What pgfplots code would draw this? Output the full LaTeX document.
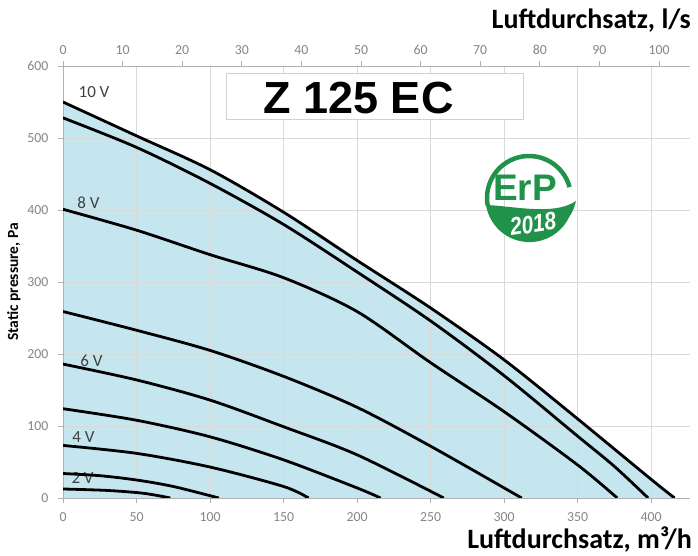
\documentclass[border=0pt]{standalone}
\usepackage{pgfplots}
\pgfplotsset{compat=1.18}
\usepackage{fontspec}
\setmainfont{Carlito}
\newfontfamily\arialfont{Liberation Sans}

\definecolor{fillblue}{HTML}{C5E5EF}
\definecolor{gridgray}{HTML}{D9D9D9}
\definecolor{axgray}{HTML}{B0B0B0}
\definecolor{ticktext}{HTML}{858585}
\definecolor{labeltext}{HTML}{404040}
\definecolor{erpgreen}{HTML}{21924A}
\definecolor{boxgray}{HTML}{D0D0D0}

\pgfplotsset{
  fanaxis/.style={
    at={(63pt,58pt)}, anchor=south west, scale only axis,
    width=627pt, height=432pt,
    ymin=0, ymax=600,
    tick align=outside, major tick length=5pt,
    tick style={axgray, line width=0.8pt},
    axis line style={axgray, line width=0.8pt},
    tick label style={font=\fontsize{13.8}{15}\selectfont, text=ticktext},
    /pgf/number format/assume math mode=true,
  },
  curve/.style={black, line width=2.8pt, smooth, tension=0.5},
}

\begin{document}
\begin{tikzpicture}[x=1pt,y=1pt]
\path (0,0) rectangle (698,556);

\begin{axis}[fanaxis,
  set layers,
  xmin=0, xmax=426.5,
  axis x line*=bottom, axis y line*=left,
  xtick={0,50,...,400}, ytick={0,100,...,600},
  xticklabel style={yshift=-6pt},
  yticklabel style={xshift=-6pt},
  grid=major, major grid style={gridgray, line width=0.9pt},
]
% area under the 10 V curve
\addplot[fill=fillblue, draw=none, smooth, tension=0.5, on layer=axis background]
  coordinates {(0,550) (50,503) (100,456) (150,397) (200,330) (250,264)
    (300,192) (350,110) (400,26) (416,0)} \closedcycle;

% voltage labels
\node[font=\fontsize{17}{18}\selectfont, text=labeltext] at (axis cs:21.1,564) {10 V};
\node[font=\fontsize{17}{18}\selectfont, text=labeltext] at (axis cs:17.3,410) {8 V};
\node[font=\fontsize{17}{18}\selectfont, text=labeltext] at (axis cs:19.4,190) {6 V};
\node[font=\fontsize{17}{18}\selectfont, text=labeltext] at (axis cs:13.9,85) {4 V};
\node[font=\fontsize{17}{18}\selectfont, text=labeltext] at (axis cs:13.3,28) {2 V};

% characteristic curves
\addplot[curve] coordinates {(0,550) (50,503) (100,456) (150,397) (200,330)
  (250,264) (300,192) (350,110) (400,26) (416,0)};
\addplot[curve] coordinates {(0,528) (50,487) (100,437) (150,380) (200,314)
  (250,246) (300,170) (350,86) (375,44) (398,0)};
\addplot[curve] coordinates {(0,401) (50,372) (100,338) (150,306) (200,259)
  (250,188) (300,120) (350,46) (377,0)};
\addplot[curve] coordinates {(0,259) (50,233) (100,205) (150,169) (200,126)
  (250,72) (312,0)};
\addplot[curve] coordinates {(0,186) (50,164) (100,136) (150,99) (200,60) (259,0)};
\addplot[curve] coordinates {(0,124) (50,108) (100,85) (150,53) (200,14) (216,0)};
\addplot[curve] coordinates {(0,73) (50,62) (100,43) (150,16) (167,0)};
\addplot[curve] coordinates {(0,34) (25,31) (50,25) (75,16) (106,0)};
\addplot[curve] coordinates {(0,12.5) (30,10.5) (55,6.5) (73,0)};
\end{axis}

% top axis in l/s
\begin{axis}[fanaxis,
  xmin=0, xmax=105.2,
  axis x line*=top, axis y line*=left,
  y axis line style={draw=none}, ytick=\empty,
  xtick={0,10,...,100},
  xticklabel style={yshift=3pt},
]
\addplot[draw=none] coordinates {(0,0) (100,600)};
\end{axis}

% axis titles
\node[anchor=base east, font=\fontsize{28}{30}\selectfont\bfseries, inner sep=0pt]
  at (692,7) {Luftdurchsatz, m³/h};
\node[anchor=base east, font=\fontsize{28}{30}\selectfont\bfseries, inner sep=0pt]
  at (691,527) {Luftdurchsatz, l/s};
\node[rotate=90, font=\fontsize{15.5}{17}\selectfont\bfseries, inner sep=0pt]
  at (14,274) {Static pressure, Pa};

% model box
\draw[boxgray, line width=0.8pt, fill=white] (226,437) rectangle (523,483);
\node[font=\arialfont\bfseries\fontsize{45}{46}\selectfont, inner sep=0pt]
  at (358.5,458) {Z 125 EC};

% ErP 2018 badge
\begin{scope}[shift={(529,358)}]
  \draw[erpgreen, line width=4.5pt] (15:42) arc[start angle=15, end angle=190, radius=42];
  \fill[erpgreen] (-43,-7) arc[start angle=189, end angle=335, radius=44]
    .. controls (44,-14) and (46,-7) .. (47,-3)
    .. controls (25,-18) and (-15,-8) .. (-43,-7) -- cycle;
  \node[erpgreen, font=\arialfont\bfseries\fontsize{37}{38}\selectfont, inner sep=0pt]
    at (-4,10) {ErP};
  \node[white, rotate=8, xscale=0.83, font=\arialfont\bfseries\itshape\fontsize{25}{26}\selectfont, inner sep=0pt]
    at (4,-26) {2018};
\end{scope}
\end{tikzpicture}
\end{document}
